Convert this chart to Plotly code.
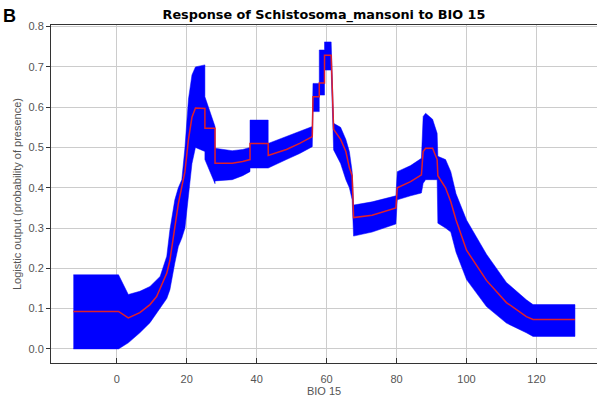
import plotly.graph_objects as go

# BIO 15 values (x) with mean response and band (mean +/- sd)
bio15 = [-12.4, 0.5, 3.3, 6.6, 9.5, 11.4, 12.4, 14.3, 15.2, 16.6, 17.6, 18.6, 19.5, 20.5, 21.5, 22.5,
         25.2, 25.2, 28.1, 28.1, 33.0, 36.0, 38.1, 38.1, 43.3, 43.3, 48.5, 52.3, 55.9, 56.1,
         57.9, 57.9, 59.4, 59.4, 61.3, 62.0, 64.0, 65.5, 66.5, 67.3, 67.7, 73.0, 79.8, 80.2,
         84.0, 87.1, 87.6, 88.3, 90.3, 91.6, 91.8, 94.0, 95.5, 97.0, 100.0, 105.7, 111.4,
         117.1, 119.0, 131.0]
mean = [0.093, 0.093, 0.077, 0.090, 0.110, 0.130, 0.150, 0.188, 0.220, 0.300, 0.360, 0.403, 0.440,
        0.520, 0.575, 0.598, 0.597, 0.548, 0.548, 0.461, 0.461, 0.465, 0.470, 0.510, 0.510, 0.480,
        0.495, 0.510, 0.527, 0.626, 0.626, 0.660, 0.660, 0.729, 0.729, 0.545, 0.520, 0.490, 0.450,
        0.430, 0.326, 0.332, 0.350, 0.400, 0.415, 0.432, 0.490, 0.498, 0.498, 0.470, 0.430, 0.400,
        0.365, 0.320, 0.245, 0.170, 0.115, 0.080, 0.073, 0.073]
lower = [0.000, 0.000, 0.015, 0.040, 0.065, 0.089, 0.100, 0.125, 0.147, 0.213, 0.254, 0.275, 0.300,
         0.380, 0.460, 0.500, 0.490, 0.470, 0.410, 0.417, 0.420, 0.430, 0.440, 0.449, 0.449, 0.450,
         0.470, 0.485, 0.502, 0.589, 0.589, 0.630, 0.630, 0.692, 0.692, 0.494, 0.460, 0.420, 0.400,
         0.370, 0.280, 0.290, 0.310, 0.370, 0.380, 0.387, 0.411, 0.420, 0.420, 0.420, 0.312, 0.300,
         0.290, 0.240, 0.172, 0.105, 0.064, 0.040, 0.031, 0.031]
upper = [0.184, 0.184, 0.135, 0.143, 0.155, 0.170, 0.180, 0.230, 0.296, 0.370, 0.400, 0.420, 0.500,
         0.620, 0.680, 0.700, 0.705, 0.626, 0.552, 0.498, 0.492, 0.495, 0.500, 0.568, 0.568, 0.510,
         0.527, 0.539, 0.552, 0.659, 0.659, 0.742, 0.742, 0.762, 0.762, 0.560, 0.550, 0.520, 0.490,
         0.440, 0.357, 0.365, 0.380, 0.440, 0.455, 0.473, 0.577, 0.585, 0.570, 0.535, 0.478, 0.470,
         0.440, 0.385, 0.320, 0.235, 0.165, 0.122, 0.110, 0.110]

x_ticks = [0, 20, 40, 60, 80, 100, 120]
y_ticks = [0.0, 0.1, 0.2, 0.3, 0.4, 0.5, 0.6, 0.7, 0.8]
y_tick_text = ["0.0", "0.1", "0.2", "0.3", "0.4", "0.5", "0.6", "0.7", "0.8"]

fig = go.Figure()
fig.add_trace(go.Scatter(
    x=bio15 + bio15[::-1], y=upper + lower[::-1],
    fill="toself", fillcolor="#0000FF", mode="lines",
    line=dict(color="#0000FF", width=0.5), hoverinfo="skip", showlegend=False))
fig.add_trace(go.Scatter(
    x=bio15, y=mean, mode="lines",
    line=dict(color="#E0202A", width=1.5), showlegend=False))

font_family = "Liberation Sans, Arial, sans-serif"
fig.update_layout(
    width=597, height=404,
    margin=dict(l=51, r=0, t=25, b=41),
    plot_bgcolor="white", paper_bgcolor="white",
    title=dict(text="<b>Response of Schistosoma_mansoni to BIO 15</b>",
               x=(324) / 597, xanchor="center", y=1 - 15 / 404, yanchor="middle",
               font=dict(family="DejaVu Sans, sans-serif", size=12.8, color="black")),
    xaxis=dict(range=[-18.8, 137.3], tickvals=x_ticks, ticks="inside", ticklen=5,
               tickcolor="#333", showgrid=True, gridcolor="#cccccc", gridwidth=1,
               zeroline=False, showline=True, linecolor="#333", linewidth=1, mirror=True,
               ticklabelstandoff=6,
               tickfont=dict(family=font_family, size=11, color="#555"),
               title=dict(text="BIO 15", font=dict(family=font_family, size=11, color="#555"),
                          standoff=2)),
    yaxis=dict(range=[-0.035, 0.804], tickvals=y_ticks, ticktext=y_tick_text,
               ticks="outside", ticklen=4, tickcolor="#333", showgrid=True,
               gridcolor="#cccccc", gridwidth=1, zeroline=False, showline=True,
               linecolor="#333", linewidth=1, mirror=True,
               tickfont=dict(family=font_family, size=11, color="#555"),
               title=dict(text="Logistic output (probability of presence)",
                          font=dict(family=font_family, size=11, color="#555"), standoff=4)),
    annotations=[dict(text="<b>B</b>", xref="paper", yref="paper",
                      x=(1 - 51) / 546, y=1 + (25 - 16) / 338, xanchor="left",
                      yanchor="middle", showarrow=False,
                      font=dict(family=font_family, size=18, color="black"))],
)

fig.write_html("out.html")
